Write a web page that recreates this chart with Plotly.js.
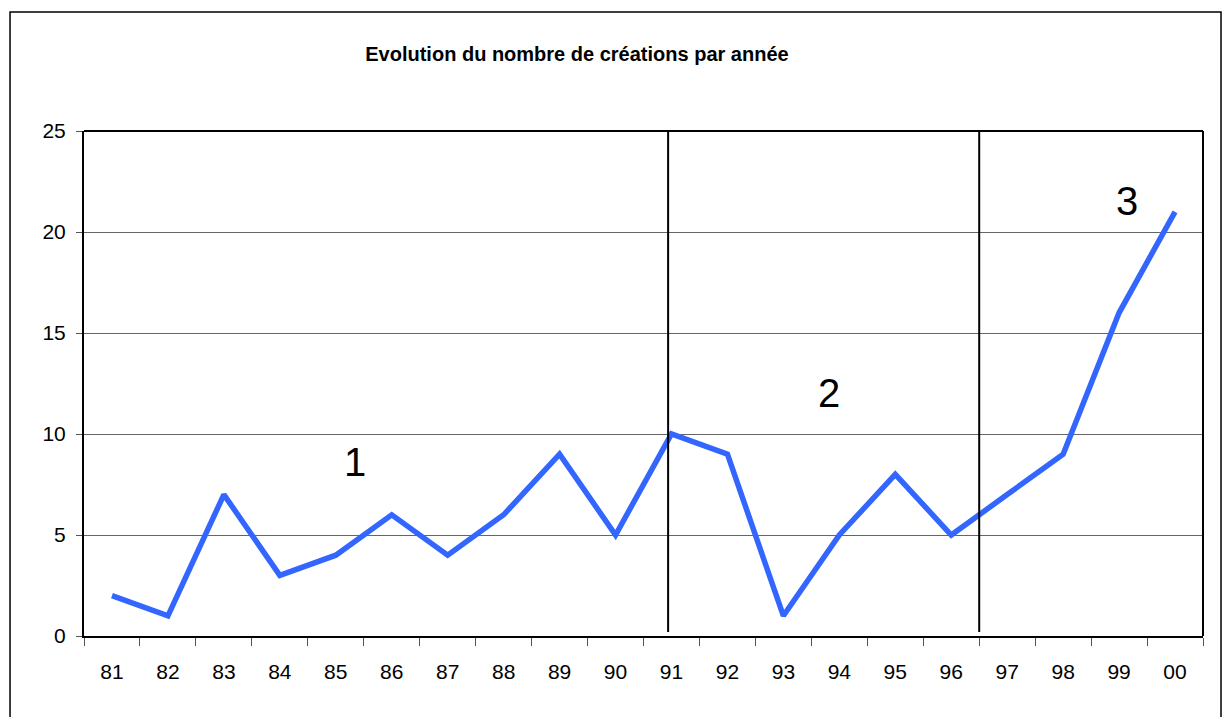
<!DOCTYPE html>
<html><head><meta charset="utf-8">
<script src="https://cdn.plot.ly/plotly-3.0.1.min.js"></script>
<style>html,body{margin:0;padding:0;background:#fff}</style>
</head><body>
<div id="chart" style="width:1231px;height:717px"></div>
<script>
const years = ["81","82","83","84","85","86","87","88","89","90","91","92","93","94","95","96","97","98","99","00"];
const creations = [2,1,7,3,4,6,4,6,9,5,10,9,1,5,8,5,7,9,16,21];
const yTicks = [0,5,10,15,20,25];
const phaseLabels = ["1","2","3"];
const phaseX = [4.35,12.81,18.14];
const phaseY = [8.6,12.05,21.55];
const separators = [9.94,15.5];

const trace = {
  x: years, y: creations, type: 'scatter', mode: 'lines',
  line: {color: '#3366FF', width: 5.5}, hoverinfo: 'skip'
};
const shapes = separators.map(s => ({
  type: 'line', xref: 'x', yref: 'paper', x0: s, x1: s, y0: 0.008, y1: 1,
  line: {color: '#000', width: 2}
}));
shapes.push({type:'rect', xref:'paper', yref:'paper', x0:-0.0661, x1:1.0161, y0:-0.2, y1:1.2356,
  line:{color:'#000', width:1.5}, fillcolor:'rgba(0,0,0,0)', layer:'below'});
shapes.push({type:'line', xref:'paper', yref:'paper', x0:0, x1:1, y0:1, y1:1, line:{color:'#000', width:2}});
shapes.push({type:'line', xref:'paper', yref:'paper', x0:1, x1:1, y0:0, y1:1, line:{color:'#000', width:2}});

const annotations = phaseLabels.map((t,i) => ({
  text: t, x: phaseX[i], y: phaseY[i], xref: 'x', yref: 'y', showarrow: false,
  font: {family: 'Liberation Sans, Arial, sans-serif', size: 40, color: '#000'}
}));

const layout = {
  width: 1231, height: 717,
  margin: {l: 84, r: 28, t: 131, b: 81},
  paper_bgcolor: '#fff', plot_bgcolor: '#fff',
  showlegend: false,
  font: {family: 'Liberation Sans, Arial, sans-serif', color: '#000', size: 21},
  title: {text: '<b>Evolution du nombre de créations par année</b>', x: 0.4687, xanchor: 'center', y: 0.925, yanchor: 'middle',
    font: {family: 'Liberation Sans, Arial, sans-serif', size: 20, color: '#000'}},
  xaxis: {type: 'category', categoryarray: years, range: [-0.5, 19.5],
    showgrid: false, showline: true, linecolor: '#000', linewidth: 2,
    ticks: 'outside', tickson: 'boundaries', ticklen: 8, tickcolor: '#555', tickwidth: 1,
    ticklabelstandoff: 16, tickfont: {size: 21}, zeroline: false, fixedrange: true},
  yaxis: {range: [0, 25], tickvals: yTicks, ticktext: yTicks.map(String),
    showgrid: true, gridcolor: '#666', gridwidth: 1,
    showline: true, linecolor: '#000', linewidth: 2, zeroline: false,
    ticks: 'outside', ticklen: 6, tickcolor: '#555', tickwidth: 1,
    ticklabelstandoff: 6, tickfont: {size: 21}, fixedrange: true},
  shapes: shapes,
  annotations: annotations
};
Plotly.newPlot('chart', [trace], layout, {displayModeBar: false, staticPlot: true});
</script>
</body></html>
